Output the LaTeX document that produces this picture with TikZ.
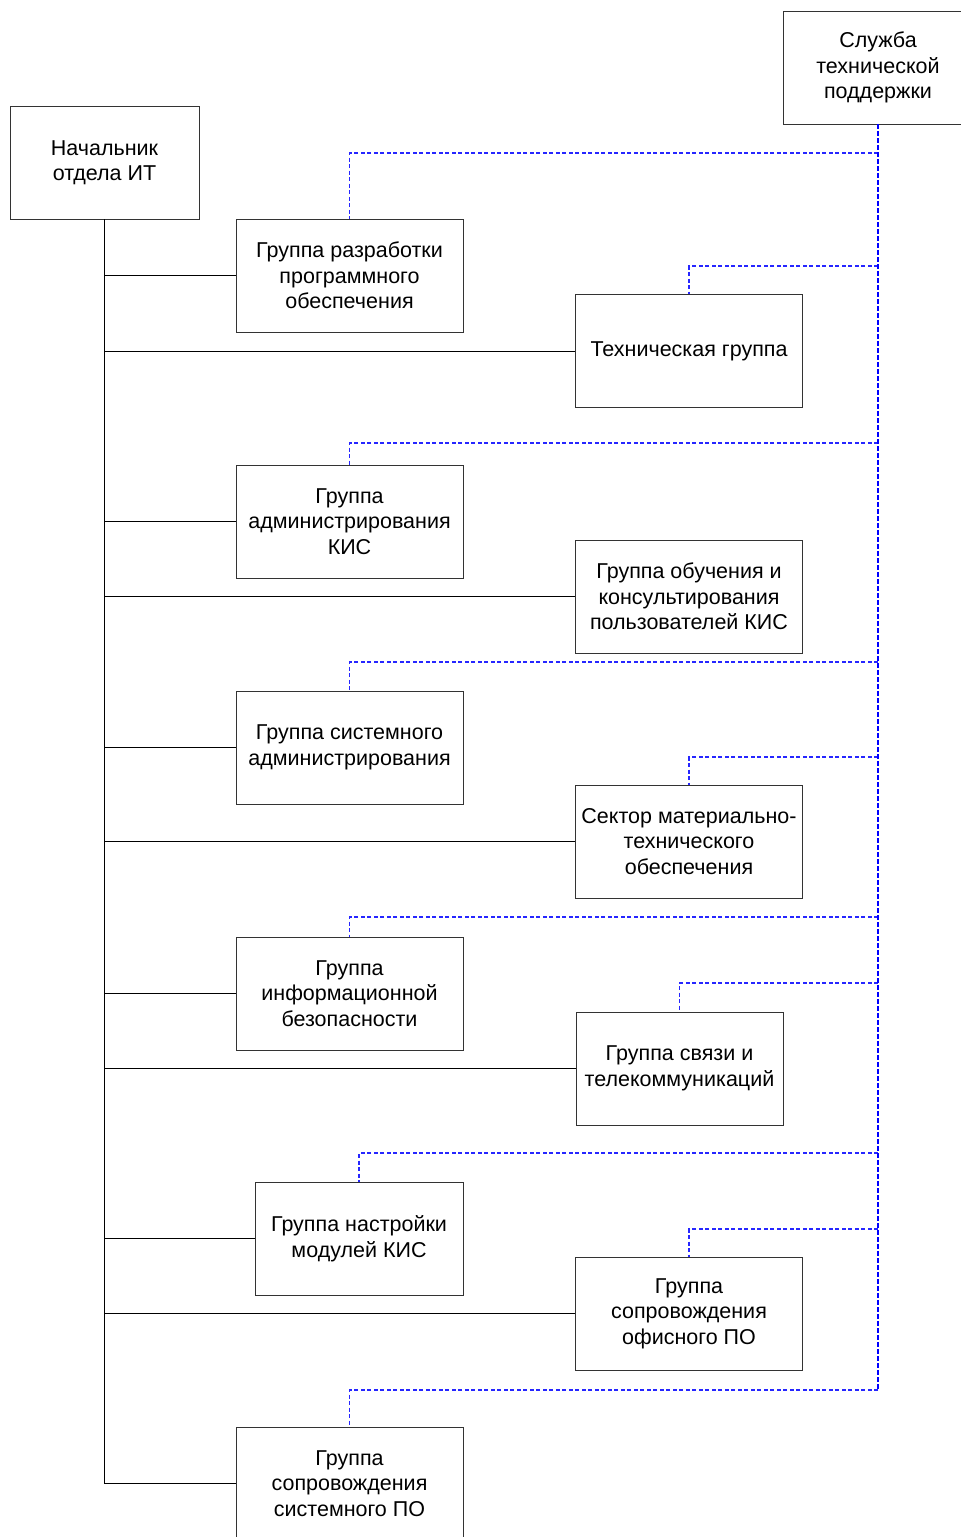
\documentclass[tikz,border=0pt]{standalone}
\usepackage{fontspec}
\setmainfont{Liberation Sans}
\begin{document}
\begin{tikzpicture}[x=1pt,y=-1pt,
  box/.style={draw=black!80, line width=0.8pt, fill=white, align=center,
    minimum width=227pt, minimum height=113pt, inner sep=0pt,
    font=\fontsize{21.5}{25.5}\selectfont},
  link/.style={draw=black, line width=0.8pt},
  sdash/.style={draw=blue!85, line width=1.1pt, dash pattern=on 4pt off 2.5pt},
  mdash/.style={draw=blue, line width=1.6pt, dash pattern=on 5pt off 2pt}]
\clip (0,0) rectangle (961,1537);
\useasboundingbox (0,0) rectangle (961,1537);

% heads
\node[box, minimum width=189pt] (boss) at (104.5,162.5) {Начальник\\отдела ИТ};
\node[box, minimum width=190pt] (sts) at (878,67.5) {Служба\\технической\\поддержки};

% left column
\node[box] (g1) at (349.5,275.5) {Группа разработки\\программного\\обеспечения};
\node[box] (g3) at (349.5,521.5) {Группа\\администрирования\\КИС};
\node[box] (g5) at (349.5,747.5) {Группа системного\\администрирования};
\node[box] (g7) at (349.5,993.5) {Группа\\информационной\\безопасности};
\node[box, minimum width=208pt] (g9) at (359,1238.5) {Группа настройки\\модулей КИС};
\node[box] (g11) at (349.5,1483.5) {Группа\\сопровождения\\системного ПО};

% right column
\node[box] (g2) at (689,351) {Техническая группа\strut};
\node[box] (g4) at (689,596.5) {Группа обучения и\\консультирования\\пользователей КИС};
\node[box] (g6) at (689,841.5) {Сектор материально-\\технического\\обеспечения};
\node[box, minimum width=207pt] (g8) at (679.5,1068.5) {Группа связи и\\телекоммуникаций};
\node[box] (g10) at (689,1313.5) {Группа\\сопровождения\\офисного ПО};

% reporting lines to the head of department
\foreach \g in {g1,g2,g3,g4,g5,g6,g7,g8,g9,g10,g11}
  \draw[link] (boss.south) |- (\g.west);

% technical support links
\coordinate (send) at (878,1390);
\foreach \g/\yy in {g1/153,g2/266,g3/443,g5/662,g6/757,g7/917,g8/983,g9/1153,g10/1229,g11/1390}
  \draw[sdash] (878,\yy) -| (\g.north);
\draw[mdash] (sts.south) -- (send);
\end{tikzpicture}
\end{document}
